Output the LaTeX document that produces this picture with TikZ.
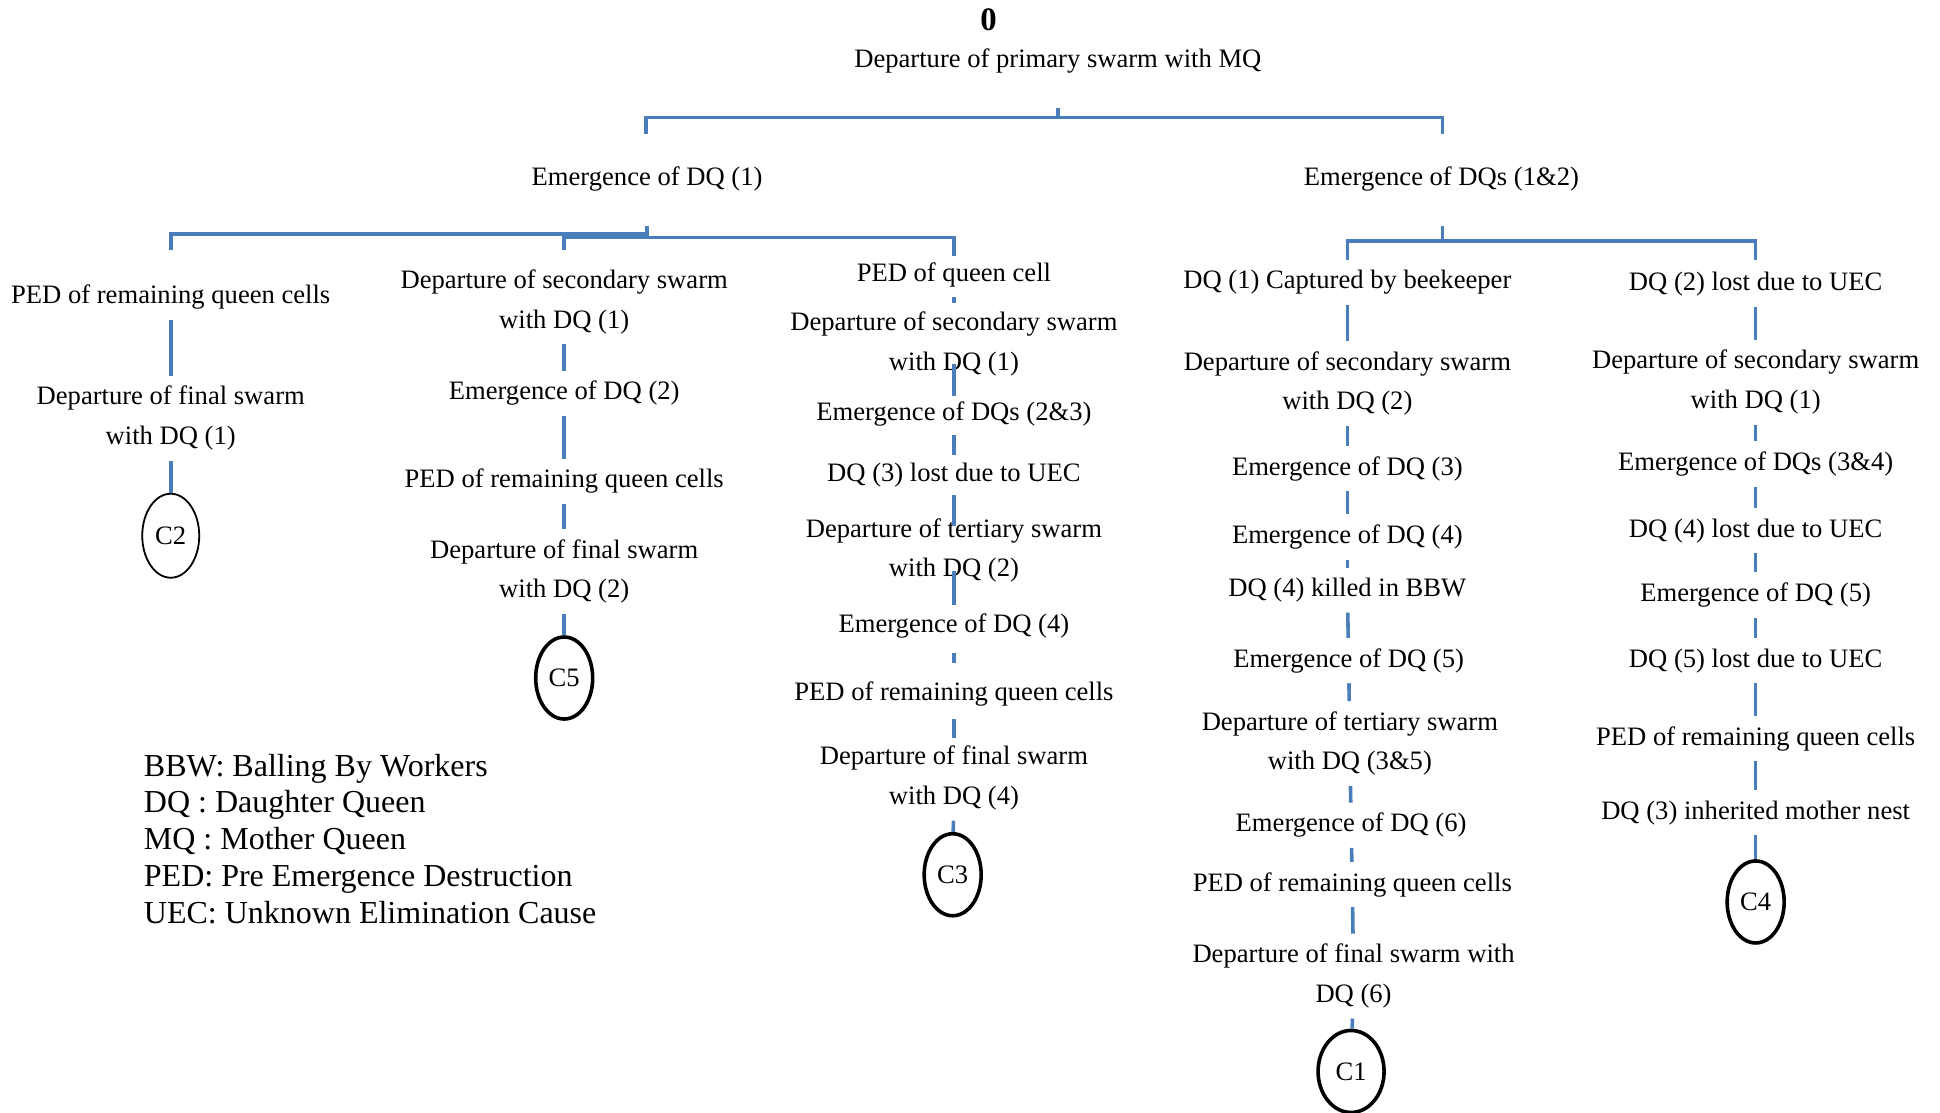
\documentclass[tikz,border=0pt]{standalone}
\usepackage{fontspec}
\setmainfont{Liberation Serif}
\usetikzlibrary{shapes.geometric}
\definecolor{linkblue}{HTML}{4A7EBB}

\begin{document}
\begin{tikzpicture}[x=0.6186pt,y=-0.6186pt, every node/.style={font=\fontsize{13.3}{19.8}\selectfont,align=center,inner sep=2pt,yshift=-1.2pt},
 lnk/.style={draw=linkblue,line width=1.8pt},
 endc/.style={draw,ellipse,line width=1.8pt,minimum width=28.5pt,minimum height=41pt,inner sep=0pt,yshift=1.2pt}]
\useasboundingbox (0,0) rectangle (1568,899);
% top of the tree
\node[font=\bfseries\fontsize{16.4}{19}\selectfont] (zero) at (799,14) {0};
\node (root) at (855,47) {Departure of primary swarm with MQ};
\node (dq1) at (523,143) {Emergence of DQ (1)};
\node (dq12) at (1165,143) {Emergence of DQs (1\&2)};
% first branch
\node (a1) at (138,238) {PED of remaining queen cells};
\node (a2) at (138,336) {Departure of final swarm\\with DQ (1)};
\node[endc,line width=0.9pt,minimum height=42pt] (c2) at (138,433) {C2};
\node (b1) at (456,242) {Departure of secondary swarm\\with DQ (1)};
\node (b2) at (456,316) {Emergence of DQ (2)};
\node (b3) at (456,387) {PED of remaining queen cells};
\node (b4) at (456,460) {Departure of final swarm\\with DQ (2)};
\node[endc] (c5) at (456,548) {C5};
\node (m1) at (771,220) {PED of queen cell};
\node (m2) at (771,276) {Departure of secondary swarm\\with DQ (1)};
\node (m3) at (771,333) {Emergence of DQs (2\&3)};
\node (m4) at (771,382) {DQ (3) lost due to UEC};
\node (m5) at (771,443) {Departure of tertiary swarm\\with DQ (2)};
\node (m6) at (771,504) {Emergence of DQ (4)};
\node (m7) at (771,559) {PED of remaining queen cells};
\node (m8) at (771,627) {Departure of final swarm\\with DQ (4)};
\node[endc] (c3) at (770,707) {C3};
% second branch
\node (d1) at (1089,226) {DQ (1) Captured by beekeeper};
\node (d2) at (1089,308) {Departure of secondary swarm\\with DQ (2)};
\node (d3) at (1089,377) {Emergence of DQ (3)};
\node (d4) at (1089,432) {Emergence of DQ (4)};
\node (d5) at (1089,475) {DQ (4) killed in BBW};
\node (d6) at (1090,532) {Emergence of DQ (5)};
\node (d7) at (1091,599) {Departure of tertiary swarm\\with DQ (3\&5)};
\node (d8) at (1092,665) {Emergence of DQ (6)};
\node (d9) at (1093,713) {PED of remaining queen cells};
\node (d10) at (1094,787) {Departure of final swarm with\\DQ (6)};
\node[endc,minimum width=33pt] (c1) at (1092,866) {C1};
\node (e1) at (1419,228) {DQ (2) lost due to UEC};
\node (e2) at (1419,307) {Departure of secondary swarm\\with DQ (1)};
\node (e3) at (1419,373) {Emergence of DQs (3\&4)};
\node (e4) at (1419,427) {DQ (4) lost due to UEC};
\node (e5) at (1419,479) {Emergence of DQ (5)};
\node (e6) at (1419,532) {DQ (5) lost due to UEC};
\node (e7) at (1419,595) {PED of remaining queen cells};
\node (e8) at (1419,655) {DQ (3) inherited mother nest};
\node[endc] (c4) at (1419,729) {C4};
% key
\node[anchor=north west,align=left,inner sep=0pt,yshift=1.2pt,font=\fontsize{16}{18.4}\selectfont] (key) at (116,609) {BBW: Balling By Workers\\DQ : Daughter Queen\\MQ : Mother Queen\\PED: Pre Emergence Destruction\\UEC: Unknown Elimination Cause};
% brackets
\coordinate (r0) at (855,85); \coordinate (r1) at (855,93);
\coordinate (ra) at (522,106); \coordinate (rb) at (1166,106);
\draw[lnk] (r0) -- (r1) (ra) |- (r1) -| (rb);
\coordinate (l0) at (523,181); \coordinate (l1) at (523,187); \coordinate (l2) at (456,190);
\coordinate (la) at (138,200); \coordinate (lb) at (456,200); \coordinate (lc) at (771,205);
\draw[lnk] (la) |- (l1) -- (l0) (lb) -- (l2) -| (lc);
\coordinate (k0) at (1166,181); \coordinate (k1) at (1166,193);
\coordinate (ka) at (1089,208); \coordinate (kb) at (1419,208);
\draw[lnk] (k0) -- (k1) (ka) |- (k1) -| (kb);
% chains
\foreach \s/\t in {a1/a2,b1/b2,b2/b3,b3/b4,d1/d2,d2/d3,d3/d4,d4/d5,d5/d6,d6/d7,d7/d8,d8/d9,d9/d10,e1/e2,e2/e3,e3/e4,e4/e5,e5/e6,e6/e7,e7/e8}
  \draw[lnk,shorten <=3pt,shorten >=3pt] (\s) -- (\t);
\foreach \s/\t/\p/\q in {m1/m2/3/2,m2/m3/-8/1,m3/m4/2/2,m4/m5/2/-6,m5/m6/-8/2,m6/m7/5/7,m7/m8/4/2}
  \draw[lnk,shorten <=\p pt,shorten >=\q pt] (\s) -- (\t);
\foreach \s/\t in {a2/c2,b4/c5,m8/c3,d10/c1,e8/c4}
  \draw[lnk,shorten <=3pt] (\s) -- (\t);
\end{tikzpicture}
\end{document}
